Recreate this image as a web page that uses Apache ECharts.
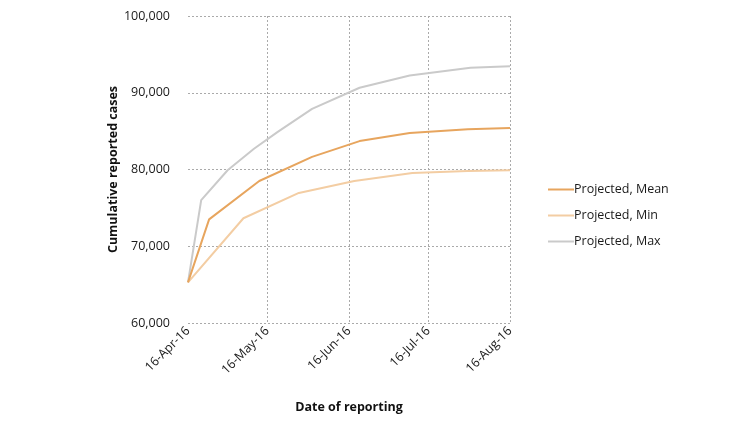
<!DOCTYPE html>
<html lang="en">
<head>
    <meta charset="UTF-8">
    <title>Cumulative reported cases</title>
    <script src="https://cdn.jsdelivr.net/npm/echarts@6/dist/echarts.min.js"></script>
    <style>
        html, body { margin: 0; padding: 0; background: #fff; }
        #main { width: 733px; height: 428px; }
    </style>
</head>
<body>
<div id="main"></div>
<script>
    // tick dates on the x axis and their labels
    var tickDates = ['2016-04-16', '2016-05-16', '2016-06-16', '2016-07-16', '2016-08-16'];
    var tickLabels = ['16-Apr-16', '16-May-16', '16-Jun-16', '16-Jul-16', '16-Aug-16'];

    // each projection has its own reporting dates
    var meanDates = ['2016-04-16', '2016-04-24', '2016-05-13', '2016-06-02', '2016-06-20', '2016-07-09', '2016-07-31', '2016-08-16'];
    var meanValues = [65300, 73500, 78500, 81650, 83700, 84750, 85250, 85400];

    var minDates = ['2016-04-16', '2016-05-07', '2016-05-28', '2016-06-18', '2016-07-10', '2016-07-31', '2016-08-16'];
    var minValues = [65300, 73650, 76950, 78500, 79550, 79800, 79900];

    var maxDates = ['2016-04-16', '2016-04-21', '2016-05-01', '2016-05-11', '2016-05-20', '2016-06-02', '2016-06-20', '2016-07-09', '2016-08-01', '2016-08-16'];
    var maxValues = [65300, 76000, 79900, 82700, 84900, 87900, 90650, 92250, 93250, 93450];

    // days since the first tick date (UTC, so no DST drift)
    function toDay(s) {
        var p = s.split('-');
        var t = Date.UTC(+p[0], +p[1] - 1, +p[2]);
        var p0 = tickDates[0].split('-');
        return Math.round((t - Date.UTC(+p0[0], +p0[1] - 1, +p0[2])) / 86400000);
    }
    function pairs(dates, values) {
        return dates.map(function (d, i) { return [toDay(d), values[i]]; });
    }
    var tickDays = tickDates.map(toDay);

    var font = "'Open Sans', 'Noto Sans', sans-serif";
    var myChart = echarts.init(document.getElementById('main'));

    var option = {
        animation: false,
        textStyle: { fontFamily: font },
        grid: { left: 188, right: 223, top: 16, bottom: 105 },
        legend: {
            orient: 'vertical',
            left: 543,
            top: 178,
            itemGap: 13,
            itemWidth: 26,
            itemHeight: 2,
            icon: 'rect',
            textStyle: { fontFamily: font, fontSize: 12.5, color: '#1a1a1a', padding: [0, 0, 0, -5] },
            data: ['Projected, Mean', 'Projected, Min', 'Projected, Max']
        },
        xAxis: {
            type: 'value',
            min: tickDays[0],
            max: tickDays[tickDays.length - 1],
            name: 'Date of reporting',
            nameLocation: 'middle',
            nameGap: 78,
            nameTextStyle: { fontFamily: font, fontSize: 12.5, fontWeight: 'bold', color: '#111' },
            axisLine: { show: false },
            axisTick: { show: false, customValues: tickDays },
            axisLabel: {
                customValues: tickDays,
                rotate: 45,
                margin: 6,
                fontSize: 12.5,
                color: '#1a1a1a',
                fontFamily: font,
                formatter: function (v) {
                    var i = tickDays.indexOf(v);
                    return i >= 0 ? tickLabels[i] : '';
                }
            },
            splitLine: { show: true, showMinLine: false, lineStyle: { color: '#aaa', type: [2, 2], width: 1 } }
        },
        yAxis: {
            type: 'value',
            min: 60000,
            max: 100000,
            interval: 10000,
            name: 'Cumulative reported cases',
            nameLocation: 'middle',
            nameGap: 61,
            nameTextStyle: { fontFamily: font, fontSize: 12.5, fontWeight: 'bold', color: '#111' },
            axisLine: { show: false },
            axisTick: { show: false },
            axisLabel: {
                margin: 18,
                fontSize: 12.5,
                color: '#1a1a1a',
                fontFamily: font,
                formatter: function (v) { return v.toLocaleString('en-US'); }
            },
            splitLine: { show: true, lineStyle: { color: '#aaa', type: [2, 2], width: 1 } }
        },
        series: [
            {
                name: 'Projected, Mean',
                type: 'line',
                symbol: 'none',
                color: '#E7A55E',
                lineStyle: { width: 2, color: '#E7A55E' },
                z: 4,
                data: pairs(meanDates, meanValues)
            },
            {
                name: 'Projected, Min',
                type: 'line',
                symbol: 'none',
                color: '#F3CDA3',
                lineStyle: { width: 2, color: '#F3CDA3' },
                z: 3,
                data: pairs(minDates, minValues)
            },
            {
                name: 'Projected, Max',
                type: 'line',
                symbol: 'none',
                color: '#CACACA',
                lineStyle: { width: 2, color: '#CACACA' },
                z: 2,
                data: pairs(maxDates, maxValues)
            }
        ]
    };

    myChart.setOption(option);
</script>
</body>
</html>
